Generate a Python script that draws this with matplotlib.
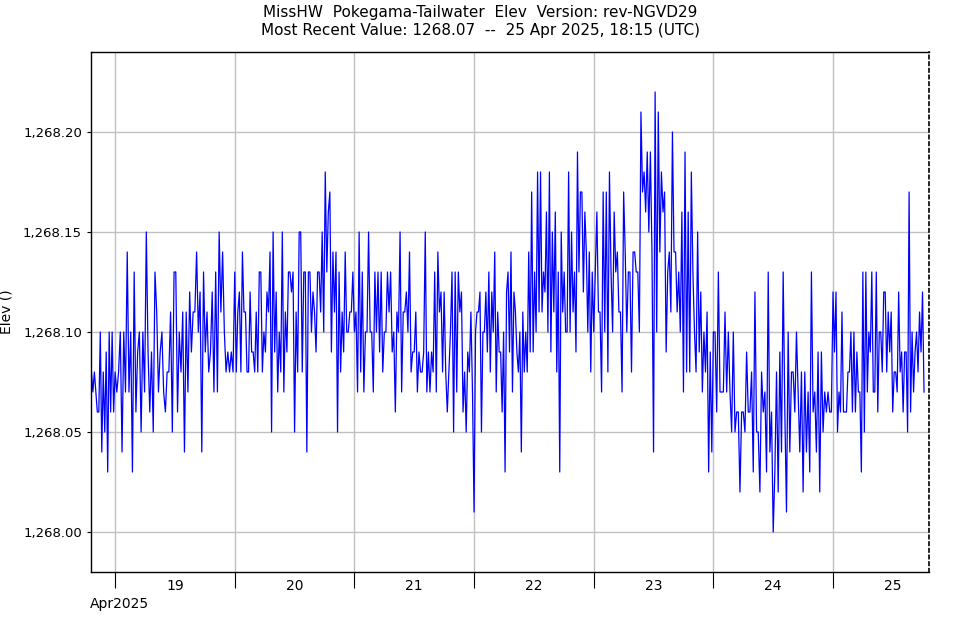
import numpy as np
import pandas as pd
import matplotlib
matplotlib.use('Agg')
import matplotlib.pyplot as plt
import matplotlib.dates as mdates
from matplotlib.ticker import FuncFormatter

# Elevation readings, hundredths of a foot above 1268.00, grouped by day (UTC)
apr18 = [8, 7, 8, 7, 6, 6, 10, 4, 8, 5, 9, 3, 10, 6, 10, 6]
apr19 = [8, 7, 8, 10, 4, 10, 7, 14, 7, 10, 3, 13, 6, 9, 10, 5, 10, 7, 15, 9, 6, 9, 5, 13, 11, 7,
         9, 10, 7, 6, 8, 8, 11, 5, 13, 13, 6, 10, 8, 11, 4, 11, 7, 12, 9, 11, 11, 14, 10, 12, 4, 13,
         9, 11, 8, 9, 12, 7, 13, 7, 15, 11, 14, 10, 8, 9, 8, 9, 8]
apr20 = [13, 8, 11, 12, 8, 14, 11, 11, 8, 8, 12, 9, 9, 8, 11, 8, 13, 13, 8, 10, 9, 12, 11, 14, 5,
         15, 9, 12, 7, 10, 8, 15, 7, 11, 9, 13, 13, 12, 13, 5, 11, 8,
         15, 15, 8, 13, 13, 4, 13, 13, 10, 12, 11, 9, 13, 13, 11, 15, 10, 18, 13, 16, 17, 9, 14, 11,
         14, 5, 13, 8, 11, 9, 14, 10, 10, 11, 11, 13]
apr21 = [10, 11, 7, 15, 8, 13, 7, 10, 10, 15, 10,
         10, 7, 13, 10, 13, 9, 13, 8, 10, 10, 13, 11, 13, 9, 10, 6, 11, 10, 15, 7, 11, 11, 12, 10, 14,
         8, 9, 9, 11, 7, 9, 8, 8, 9, 15, 7, 9, 7, 9, 8, 13, 7, 14, 11,
         12, 8, 12, 8, 6, 8, 10, 13, 5, 13, 7, 13, 11, 12, 6, 8, 5, 9, 8, 11, 7]
apr22 = [1, 10, 11, 11, 12, 5, 10, 10, 12, 9, 13, 8, 12, 10, 14, 7, 11, 9, 9, 6, 10, 3, 12,
         13, 9, 14, 7, 12, 11, 9, 8, 10, 4, 11, 8, 10, 8, 14, 9, 17, 9, 13, 10, 18, 11, 18, 11, 13,
         12, 16, 10, 18, 9, 15, 11, 16, 8, 13, 3, 15, 11, 13, 10, 10, 18, 10, 15, 11, 13, 9, 19, 13,
         17, 17, 12, 16, 14, 10, 14, 8, 13]
apr23 = [10, 13, 16, 11, 11, 7, 17, 10, 17, 8, 18, 13, 10, 16, 13, 14, 11, 11, 7, 17, 14, 10, 13,
         13, 8, 14, 14, 13, 13, 10, 21, 17, 18, 16, 19,
         15, 19, 14, 4, 22, 10, 21, 14, 18, 16, 17, 9, 13, 14, 11, 20, 14, 14, 11, 13, 10, 16, 7, 19,
         8, 16, 8, 18, 13, 10, 8, 15, 9, 12, 7, 10, 8, 11, 3, 9, 4]
apr24 = [10, 10, 6, 13,
         7, 7, 7, 11, 7, 10, 7, 5, 10, 5, 6, 6, 2, 6, 6, 5, 9, 6, 6, 8, 3, 12, 5, 5, 2, 8, 6, 7, 3,
         13, 4, 6, 0, 3, 8, 2, 9, 4, 13, 6, 1, 10, 4, 8,
         8, 6, 10, 7, 4, 8, 2, 8, 4, 7, 3, 13, 6, 7, 4, 9, 2, 9, 5, 7, 6, 7, 6, 6]
apr25 = [12, 9, 12, 5, 7, 6, 11, 6, 6, 6, 8, 8, 10, 6, 10, 6, 9, 7, 7, 3,
         13, 5, 13, 7, 10, 9, 13, 7, 7, 13, 6, 10, 10, 8, 12, 12, 8, 11, 9, 11, 6, 8, 8, 7, 12, 8,
         9, 6, 9, 9, 5, 17, 6, 10, 7, 9, 10, 8, 11, 9, 12, 7]

# (first reading, end of the day's span, readings)
days = [
    ('2025-04-18 19:15', '2025-04-19 00:00', apr18),
    ('2025-04-19 00:00', '2025-04-20 00:00', apr19),
    ('2025-04-20 00:00', '2025-04-21 00:00', apr20),
    ('2025-04-21 00:00', '2025-04-22 00:00', apr21),
    ('2025-04-22 00:00', '2025-04-23 00:00', apr22),
    ('2025-04-23 00:00', '2025-04-24 00:00', apr23),
    ('2025-04-24 00:00', '2025-04-25 00:00', apr24),
    ('2025-04-25 00:00', '2025-04-25 18:15', apr25),
]
base = 1268.00

times, vals = [], []
for i, (t0, t1, v) in enumerate(days):
    last = i == len(days) - 1
    n = len(v)
    if last:
        tt = pd.date_range(t0, t1, periods=n)
    else:
        tt = pd.date_range(t0, t1, periods=n + 1)[:-1]
    times.extend(tt)
    vals.extend(base + np.array(v) / 100.0)

fig = plt.figure(figsize=(9.61, 6.20), dpi=100)
ax = fig.add_axes([91 / 961, 1 - 572 / 620, (929 - 91) / 961, (572 - 52) / 620])

ax.plot(times, vals, color='#0000ff', lw=0.9)

ax.set_xlim(pd.Timestamp('2025-04-18 19:10'), pd.Timestamp('2025-04-25 19:15'))
ax.set_ylim(1267.98, 1268.24)
ax.set_yticks([1268.00, 1268.05, 1268.10, 1268.15, 1268.20])
ax.yaxis.set_major_formatter(FuncFormatter(lambda y, p: f'{y:,.2f}'))

# day boundaries as major ticks, labels at noon
ax.xaxis.set_major_locator(mdates.DayLocator())
ax.xaxis.set_major_formatter(plt.NullFormatter())
ax.xaxis.set_minor_locator(mdates.HourLocator(byhour=[12]))
ax.xaxis.set_minor_formatter(mdates.DateFormatter('%d'))
ax.tick_params(axis='x', which='major', length=11.5, width=0.8, direction='out', color='black')
ax.tick_params(axis='x', which='minor', length=0, labelsize=10, pad=5)
ax.tick_params(axis='y', length=3, labelsize=9.5)

ax.grid(True, which='major', color='#c0c0c0', lw=1)
ax.set_ylabel('Elev ()', fontsize=10)
ax.yaxis.set_label_coords(-0.092, 0.5)

for s in ['left', 'bottom', 'top']:
    ax.spines[s].set_color('black')
    ax.spines[s].set_linewidth(1)
ax.spines['right'].set_linestyle((0, (2, 2)))
ax.spines['right'].set_linewidth(1.2)

fig.text(90 / 961, 1 - 604 / 620, 'Apr2025', fontsize=10, va='center', ha='left')
fig.text(0.5, 1 - 12 / 620, 'MissHW  Pokegama-Tailwater  Elev  Version: rev-NGVD29',
         fontsize=11, ha='center', va='center')
fig.text(0.5, 1 - 31 / 620, 'Most Recent Value: 1268.07  --  25 Apr 2025, 18:15 (UTC)',
         fontsize=11, ha='center', va='center')

fig.savefig('out.png', dpi=100)
